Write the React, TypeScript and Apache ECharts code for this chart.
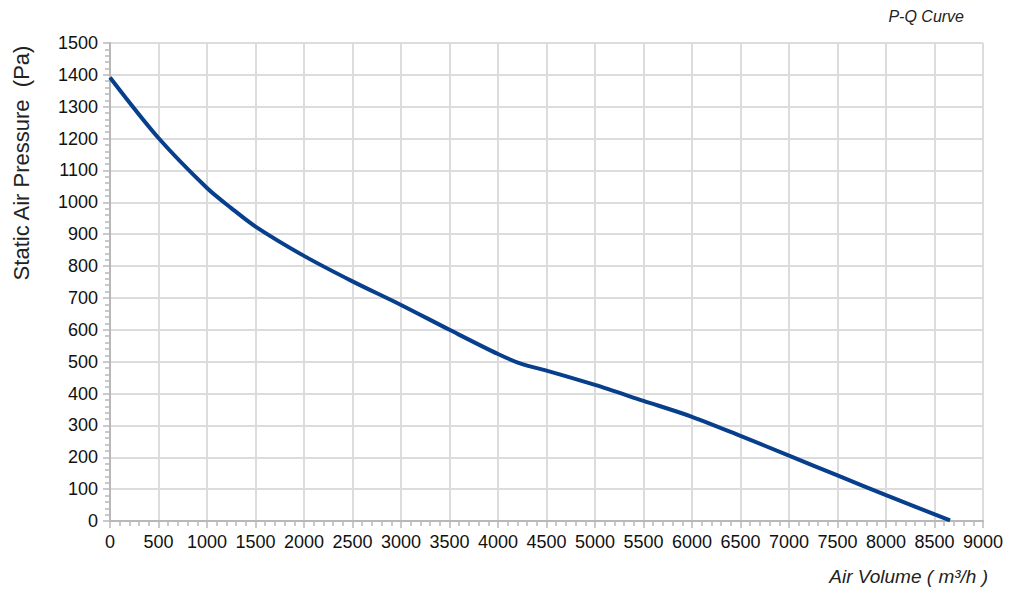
import React, { useEffect, useRef } from "react";
import * as echarts from "echarts";

const airVolume = [0, 500, 1000, 1250, 1500, 2000, 2500, 3000, 3500, 4000, 4250, 4500, 5000, 5500, 6000, 6500, 7000, 7500, 8000, 8660];
const staticPressure = [1392, 1202, 1045, 982, 924, 832, 752, 678, 600, 524, 492, 472, 427, 377, 327, 267, 205, 143, 81, 2];

const chartTitle = "P-Q Curve";
const xAxisTitle = "Air Volume ( m³/h )";
const yAxisTitle = "Static Air Pressure  (Pa)";

export default function App() {
  const ref = useRef<HTMLDivElement>(null);
  useEffect(() => {
    if (!ref.current) return;
    const chart = echarts.init(ref.current, undefined, { renderer: "svg" });
    const data = airVolume.map((x, i) => [x, staticPressure[i]]);
    const font = "'Liberation Sans', Arial, Helvetica, sans-serif";
    const plain = (v: number) => String(v);
    chart.setOption({
      animation: false,
      backgroundColor: "#ffffff",
      textStyle: { fontFamily: font },
      grid: { left: 110, right: 41, top: 43, bottom: 86, containLabel: false },
      xAxis: {
        type: "value",
        min: 0,
        max: 9000,
        interval: 500,
        axisLine: { show: true, lineStyle: { color: "#b8b8b8", width: 2 } },
        axisTick: { show: true, length: 7, lineStyle: { color: "#b8b8b8", width: 1.5 } },
        minorTick: { show: true, splitNumber: 5, length: 5, lineStyle: { color: "#b8b8b8", width: 1.5 } },
        splitLine: { show: true, lineStyle: { color: "#dcdcdc", width: 2 } },
        axisLabel: { color: "#111", fontSize: 18, margin: 12, fontFamily: font, formatter: plain },
      },
      yAxis: {
        type: "value",
        min: 0,
        max: 1500,
        interval: 100,
        axisLine: { show: true, lineStyle: { color: "#b8b8b8", width: 2 } },
        axisTick: { show: true, length: 7, lineStyle: { color: "#b8b8b8", width: 1.5 } },
        minorTick: { show: true, splitNumber: 5, length: 5, lineStyle: { color: "#b8b8b8", width: 1.5 } },
        splitLine: { show: true, lineStyle: { color: "#dcdcdc", width: 2 } },
        axisLabel: { color: "#111", fontSize: 18, margin: 12, fontFamily: font, formatter: plain },
      },
      graphic: [
        {
          type: "text",
          right: 60,
          top: 8,
          style: { text: chartTitle, fontSize: 16, fontStyle: "italic", fill: "#222", fontFamily: font },
        },
        {
          type: "text",
          right: 36,
          top: 567,
          style: { text: xAxisTitle, fontSize: 19, fontStyle: "italic", fill: "#222", fontFamily: font },
        },
        {
          type: "text",
          x: 10,
          y: 163,
          rotation: Math.PI / 2,
          style: {
            text: yAxisTitle,
            fontSize: 22,
            fill: "#222",
            fontFamily: font,
            align: "center",
            verticalAlign: "top",
          },
        },
      ],
      series: [
        {
          type: "line",
          data,
          smooth: 0.3,
          showSymbol: false,
          symbol: "none",
          lineStyle: { color: "#073f8c", width: 4 },
        },
      ],
    });
    return () => chart.dispose();
  }, []);
  return (
    <div
      ref={ref}
      style={{ position: "fixed", left: 0, top: 0, width: 1024, height: 607, background: "#fff" }}
    />
  );
}
